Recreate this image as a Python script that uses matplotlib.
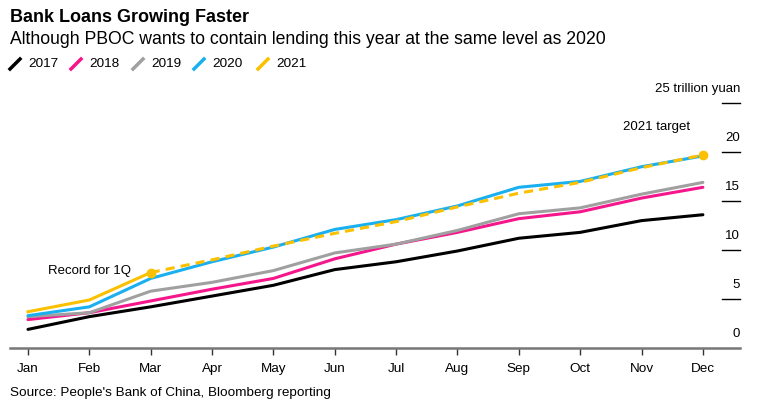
import matplotlib
matplotlib.use("Agg")
import matplotlib.pyplot as plt
from matplotlib.lines import Line2D

plt.rcParams['font.family'] = ['Liberation Sans', 'DejaVu Sans']

months = ["Jan", "Feb", "Mar", "Apr", "May", "Jun", "Jul", "Aug", "Sep", "Oct", "Nov", "Dec"]

# cumulative new yuan loans, trillion yuan
y2017 = [1.9, 3.2, 4.2, 5.3, 6.4, 8.0, 8.8, 9.9, 11.2, 11.8, 13.0, 13.6]
y2018 = [2.9, 3.6, 4.8, 6.0, 7.1, 9.1, 10.6, 11.8, 13.2, 13.9, 15.3, 16.4]
y2019 = [3.2, 3.6, 5.8, 6.7, 7.9, 9.7, 10.6, 12.0, 13.7, 14.3, 15.7, 16.9]
y2020 = [3.3, 4.2, 7.1, 8.8, 10.3, 12.1, 13.1, 14.5, 16.4, 17.0, 18.5, 19.6]
y2021 = [3.7, 4.9, 7.7]
target2021 = [7.7, 9.0, 10.4, 11.7, 12.9, 14.4, 15.8, 16.9, 18.4, 19.7]

yticks = [0, 5, 10, 15, 20, 25]
ylabels = ["0", "5", "10", "15", "20", "25 trillion yuan"]

series = [("2017", y2017, "#000000"), ("2018", y2018, "#f5168c"),
          ("2019", y2019, "#a0a0a0"), ("2020", y2020, "#1ab0f0")]
c21 = "#fbc100"

W, H = 762, 416
fig = plt.figure(figsize=(W / 100, H / 100), dpi=100)
# axes in pixel box: x 10..740, y 80..348
ax = fig.add_axes([10 / W, (H - 348) / H, 730 / W, 268 / H])

x = list(range(12))
for name, vals, col in series:
    ax.plot(x, vals, color=col, lw=2.2, solid_capstyle='round', zorder=3)
ax.plot(x[:3], y2021, color=c21, lw=2.2, zorder=4)
ax.plot(x[2:], target2021, color=c21, lw=2.2, ls=(0, (3, 2)), zorder=4)
ax.plot([2, 11], [y2021[-1], target2021[-1]], 'o', color=c21, ms=6, zorder=5)

ax.set_xlim(-0.293, 11.605)
ax.set_ylim(0, 27.35)

for s in ["top", "right", "left"]:
    ax.spines[s].set_visible(False)
ax.spines["bottom"].set_color("#777777")
ax.spines["bottom"].set_linewidth(1.8)
ax.set_yticks([])
ax.set_xticks(x)
ax.set_xticklabels(months, fontsize=9.7)
ax.tick_params(axis='x', length=5, width=1, color="#333333", pad=6)

yt = ax.get_yaxis_transform()
for v, lab in zip(yticks, ylabels):
    if v > 0:
        ax.plot([0.975, 1.0], [v, v], color="black", lw=1, transform=yt, clip_on=False)
    ax.text(1.0, v + 1.4, lab, transform=yt, ha='right', va='center', fontsize=9.5)

ax.text(0.33, 7.9, "Record for 1Q", fontsize=9.5, va='center', ha='left')
ax.text(10.25, 22.55, "2021 target", fontsize=9.5, va='center', ha='center')

# titles
fig.text(10 / W, 1 - 17 / H, "Bank Loans Growing Faster", fontsize=13, fontweight='bold', va='center')
fig.text(10 / W, 1 - 40 / H, "Although PBOC wants to contain lending this year at the same level as 2020",
         fontsize=12.7, va='center')

# legend
leg = [("2017", "#000000"), ("2018", "#f5168c"), ("2019", "#a0a0a0"), ("2020", "#1ab0f0"), ("2021", c21)]
lx = [10, 71, 133, 194, 258]
ly = 64
for (name, col), px in zip(leg, lx):
    fig.add_artist(Line2D([px / W, (px + 10) / W], [1 - (ly + 5) / H, 1 - (ly - 5) / H],
                          color=col, lw=2.5))
    fig.text((px + 18) / W, 1 - ly / H, name, fontsize=9.7, va='center')

fig.text(10 / W, 1 - 393 / H, "Source: People's Bank of China, Bloomberg reporting", fontsize=9.7, va='center')

fig.savefig("out.png", dpi=100)
